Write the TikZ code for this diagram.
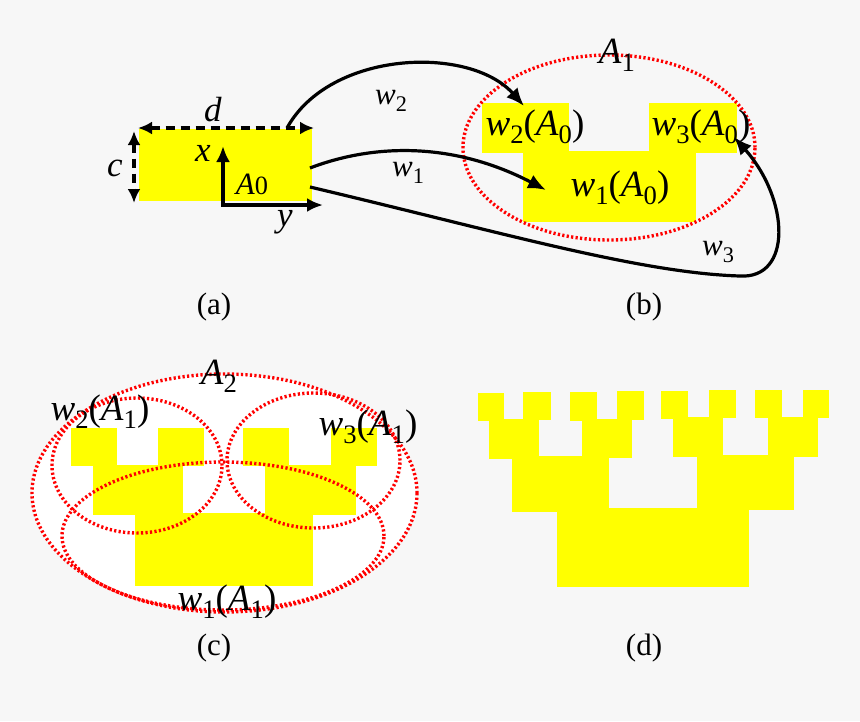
\documentclass[tikz,border=0pt]{standalone}
\usepackage{fontspec}
\usepackage{graphicx}
\setmainfont{Liberation Serif}
\usetikzlibrary{arrows.meta}
\definecolor{bg}{RGB}{247,247,247}
\definecolor{yel}{RGB}{255,255,0}
\definecolor{dotred}{RGB}{255,0,0}
\newcommand{\sbs}[1]{\raisebox{-0.22em}{\scalebox{0.72}{#1}}}
\newcommand{\sbsm}[1]{\raisebox{-0.24em}{\scalebox{0.72}{#1}}}
\begin{document}
\begin{tikzpicture}[x=1pt,y=-1pt,
  blk/.style={line width=3.2pt, -{Latex[length=18pt,width=15pt]}},
  axisarr/.style={line width=3.2pt, line join=miter, {Latex[length=16pt,width=14pt]}-{Latex[length=16pt,width=14pt]}},
  dimarrow/.style={line width=3.2pt, dash pattern=on 9pt off 6pt, {Latex[length=14pt,width=13pt]}-{Latex[length=14pt,width=13pt]}},
  dotell/.style={draw=dotred, line width=3.4pt, dash pattern=on 2.2pt off 2.3pt},
  yelfill/.style={fill=yel},
  biglbl/.style={inner sep=0pt, font=\fontsize{37}{40}\selectfont},
  midlbl/.style={inner sep=0pt, font=\fontsize{35}{38}\selectfont},
  smllbl/.style={inner sep=0pt, font=\fontsize{31}{34}\selectfont},
  caplbl/.style={inner sep=0pt, font=\fontsize{31}{34}\selectfont}]
\useasboundingbox (0,0) rectangle (860,721);
\fill[bg] (0,0) rectangle (860,721);

% ---------- panel (a)
\fill[yelfill] (139,129) rectangle (312,201);
\coordinate (dL) at (138,128);
\coordinate (dR) at (314,128);
\draw[dimarrow] (dL) -- (dR);
\coordinate (cT) at (134,131);
\coordinate (cB) at (134,203);
\draw[dimarrow] (cT) -- (cB);
\coordinate (O) at (223,205);
\coordinate (xE) at (223,146);
\coordinate (yE) at (323,205);
\draw[axisarr] (xE) -- (O) -- (yE);
\node[midlbl] (lbld) at (213,110) {\textit{d}};
\node[midlbl] (lblc) at (115,168) {\textit{c}};
\node[midlbl] (lblx) at (203,153) {\textit{x}};
\node[caplbl] (lblA0) at (252,184) {\textit{A}\scalebox{0.85}{0}};
\node[midlbl] (lbly) at (285,222) {\textit{y}};

% ---------- panel (b)
\fill[yelfill] (482,103) rectangle (569,153);
\fill[yelfill] (649,103) rectangle (737,153);
\fill[yelfill] (523,151) rectangle (696,222);
\draw[dotell] (609,147.5) ellipse [x radius=146pt, y radius=92.5pt];
\node[biglbl] (A1) at (617,55) {\textit{A}\sbs{1}};
\node[biglbl] (w2A0) at (535,127) {\textit{w}\sbs{2}(\textit{A}\sbs{0})};
\node[biglbl] (w3A0) at (701,127) {\textit{w}\sbs{3}(\textit{A}\sbs{0})};
\node[biglbl] (w1A0) at (620,188) {\textit{w}\sbs{1}(\textit{A}\sbs{0})};

% ---------- maps
\coordinate (s2) at (287,128);
\coordinate (e2) at (524,106);
\draw[blk] (s2) .. controls (330,50) and (470,45) .. (e2);
\coordinate (s1) at (310,168);
\coordinate (e1) at (546,190);
\draw[blk] (s1) .. controls (370,145) and (450,140) .. (e1);
\coordinate (s3) at (310,187);
\coordinate (m3) at (740,276);
\coordinate (e3) at (734,137);
\draw[blk] (s3) .. controls (500,232) and (640,273) .. (m3) .. controls (792,279) and (790,200) .. (e3);
\node[smllbl] (lw2) at (391,101) {\textit{w}\sbsm{2}};
\node[smllbl] (lw1) at (408,173) {\textit{w}\sbsm{1}};
\node[smllbl] (lw3) at (718,252) {\textit{w}\sbsm{3}};

\node[caplbl] (la) at (214,307) {(a)};
\node[caplbl] (lb) at (644,307) {(b)};

% ---------- panel (c)
\fill[white] (224.5,493) ellipse [x radius=192.5pt, y radius=119pt];
\fill[yelfill] (71,428) rectangle (117,466);
\fill[yelfill] (158,428) rectangle (204,466);
\fill[yelfill] (243,428) rectangle (289,466);
\fill[yelfill] (331,428) rectangle (377,466);
\fill[yelfill] (93,465) rectangle (183,515);
\fill[yelfill] (265,465) rectangle (356,515);
\fill[yelfill] (135,513) rectangle (313,586);
\draw[dotell] (224.5,493) ellipse [x radius=192.5pt, y radius=119pt];
\draw[dotell] (223,536) ellipse [x radius=161pt, y radius=74pt];
\draw[dotell] (137,465.5) ellipse [x radius=85pt, y radius=67.5pt];
\draw[dotell] (313.5,460.5) ellipse [x radius=86.5pt, y radius=67.5pt];
\node[biglbl] (A2) at (219,376) {\textit{A}\sbs{2}};
\node[biglbl] (w2A1) at (100,412) {\textit{w}\sbs{2}(\textit{A}\sbs{1})};
\node[biglbl] (w3A1) at (368,427) {\textit{w}\sbs{3}(\textit{A}\sbs{1})};
\node[biglbl] (w1A1) at (227,602) {\textit{w}\sbs{1}(\textit{A}\sbs{1})};
\node[caplbl] (lc) at (214,648) {(c)};

% ---------- panel (d)
\fill[yelfill] (478,393) rectangle (504,421);
\fill[yelfill] (523,392) rectangle (551,420);
\fill[yelfill] (570,392) rectangle (597,421);
\fill[yelfill] (617,391) rectangle (644,420);
\fill[yelfill] (661,391) rectangle (688,419);
\fill[yelfill] (709,390) rectangle (736,418);
\fill[yelfill] (755,390) rectangle (782,418);
\fill[yelfill] (803,390) rectangle (829,418);
\fill[yelfill] (489,419) rectangle (539,459);
\fill[yelfill] (582,419) rectangle (632,458);
\fill[yelfill] (673,417) rectangle (723,457);
\fill[yelfill] (768,417) rectangle (818,457);
\fill[yelfill] (512,456) rectangle (609,512);
\fill[yelfill] (697,455) rectangle (794,510);
\fill[yelfill] (557,508) rectangle (749,587);
\node[caplbl] (ld) at (644,648) {(d)};
\end{tikzpicture}
\end{document}
